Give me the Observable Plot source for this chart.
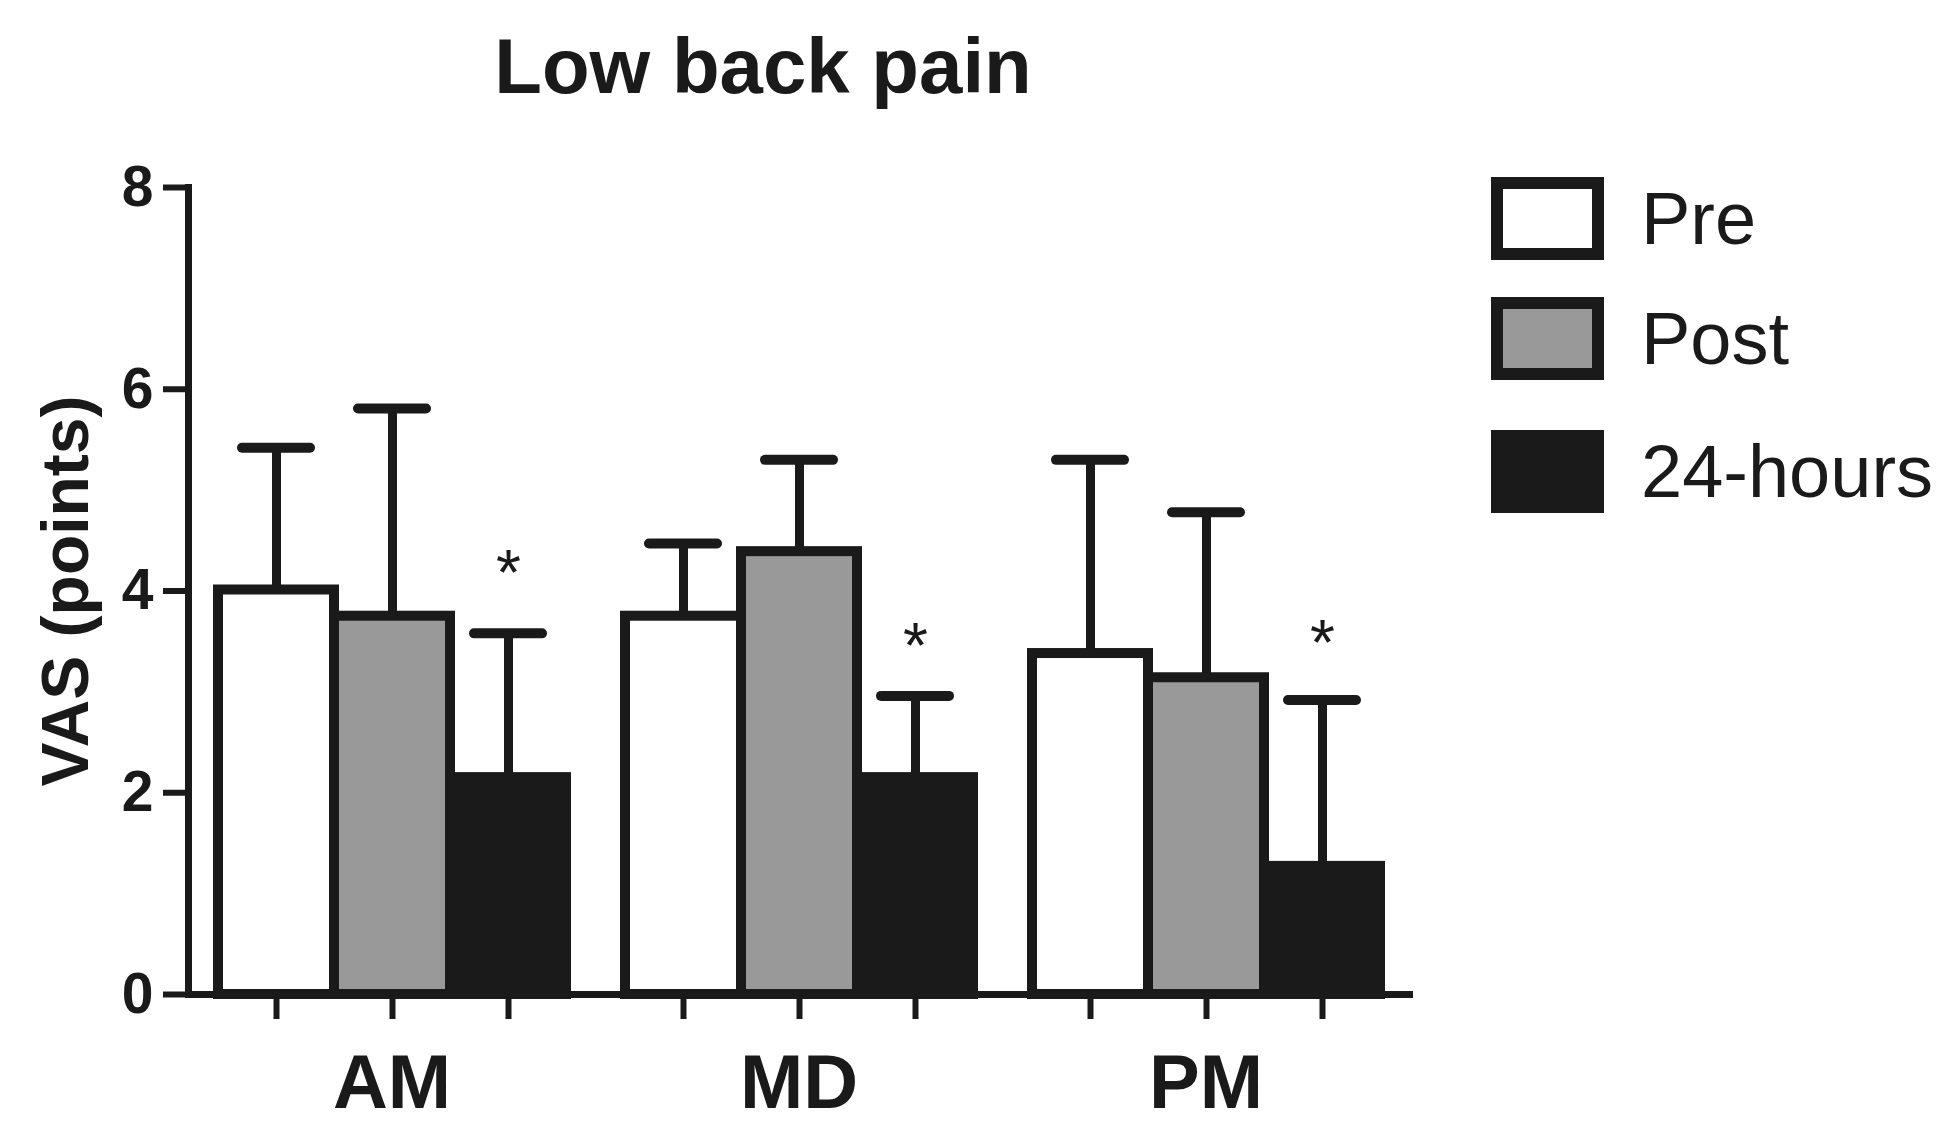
<!DOCTYPE html>
<html><head><meta charset="utf-8">
<script src="https://cdn.jsdelivr.net/npm/d3@7"></script>
<script src="https://cdn.jsdelivr.net/npm/@observablehq/plot@0.6"></script>
<style>
body{margin:0;background:#fff;font-family:"Liberation Sans",Arial,sans-serif;}
#wrap{position:relative;width:1960px;height:1136px;overflow:hidden;background:#fff;}
#title{position:absolute;z-index:2;left:413px;width:700px;top:27px;text-align:center;font-weight:bold;font-size:78px;line-height:1;color:#1a1a1a;}
#chart{position:absolute;z-index:1;left:0;top:0;}
#legend{position:absolute;z-index:2;left:1491px;top:177px;}
.item{display:flex;align-items:center;height:83px;}
.sw{box-sizing:border-box;width:113px;height:83px;border:12px solid #1a1a1a;}
.lab{margin-left:37px;font-size:74px;line-height:1;color:#1a1a1a;}
</style></head>
<body>
<div id="wrap"><div id="chart"></div><div id="title"></div><div id="legend"></div></div>
<script>
const chartTitle = "Low back pain";
const yLabel = "VAS (points)";
const groups = ["AM", "MD", "PM"];
const series = ["Pre", "Post", "24-hours"];
const seriesColors = ["#ffffff", "#999999", "#1a1a1a"];
const preMean = [4.01, 3.75, 3.38];
const postMean = [3.75, 4.39, 3.14];
const hoursMean = [2.15, 2.15, 1.27];
const preSD = [1.41, 0.72, 1.92];
const postSD = [2.06, 0.91, 1.64];
const hoursSD = [1.43, 0.81, 1.65];
const yTicks = [0, 2, 4, 6, 8];
const starLabel = "*";
const starY = [4.25, 3.53, 3.56];

const ink = "#1a1a1a";
const means = [preMean, postMean, hoursMean];
const sds = [preSD, postSD, hoursSD];
const data = [];
groups.forEach((g, i) => series.forEach((s, j) => data.push({group: g, series: s, mean: means[j][i], sd: sds[j][i]})));
const stars = groups.map((g, i) => ({group: g, series: series[2], y: starY[i], t: starLabel}));

document.getElementById("title").textContent = chartTitle;

const font = "Liberation Sans, Arial, sans-serif";
const plot = Plot.plot({
  width: 1460, height: 1136,
  marginTop: 187, marginBottom: 142, marginLeft: 187, marginRight: 50,
  style: {fontFamily: font, color: ink, background: "white", overflow: "visible"},
  fx: {domain: groups, paddingInner: 0, paddingOuter: 0},
  x: {domain: series, paddingInner: 0, paddingOuter: 0.24},
  y: {domain: [0, 8]},
  color: {domain: series, range: seriesColors},
  marks: [
    Plot.ruleX(data, {fx: "group", x: "series", y1: "mean", y2: d => d.mean + d.sd, stroke: ink, strokeWidth: 9}),
    Plot.tickY(data, {fx: "group", x: "series", y: d => d.mean + d.sd, stroke: ink, strokeWidth: 10, strokeLinecap: "round", inset: 24}),
    Plot.barY(data, {fx: "group", x: "series", y: "mean", fill: "series", stroke: ink, strokeWidth: 10}),
    Plot.text(stars, {fx: "group", x: "series", y: "y", text: "t", fontSize: 64, fill: ink, dy: 9}),
    Plot.frame({anchor: "bottom", facet: "super", stroke: ink, strokeWidth: 7}),
    Plot.frame({anchor: "left", facet: "super", stroke: ink, strokeWidth: 7}),
    Plot.axisY({ticks: yTicks, tickSize: 25, tickPadding: 10, strokeWidth: 6, fontSize: 57, fontWeight: "bold", label: null, fill: ink}),
    Plot.axisY({ticks: [], tickSize: 0, label: yLabel, labelAnchor: "center", labelArrow: "none", labelOffset: 147, fontSize: 66, fontWeight: "bold", fill: ink}),
    Plot.axisX({tickSize: 25, tickFormat: () => "", label: null, strokeWidth: 6}),
    Plot.axisFx({anchor: "bottom", tickSize: 0, tickPadding: 60, fontSize: 76, fontWeight: "bold", label: null, fill: ink})
  ]
});
document.getElementById("chart").appendChild(plot);

const legendGaps = [37, 50, 0];
const legend = document.getElementById("legend");
series.forEach((s, j) => {
  const item = document.createElement("div");
  item.className = "item";
  item.style.marginBottom = legendGaps[j] + "px";
  const sw = document.createElement("div");
  sw.className = "sw";
  sw.style.background = seriesColors[j];
  const lab = document.createElement("div");
  lab.className = "lab";
  lab.textContent = s;
  item.appendChild(sw);
  item.appendChild(lab);
  legend.appendChild(item);
});
</script>
</body></html>
